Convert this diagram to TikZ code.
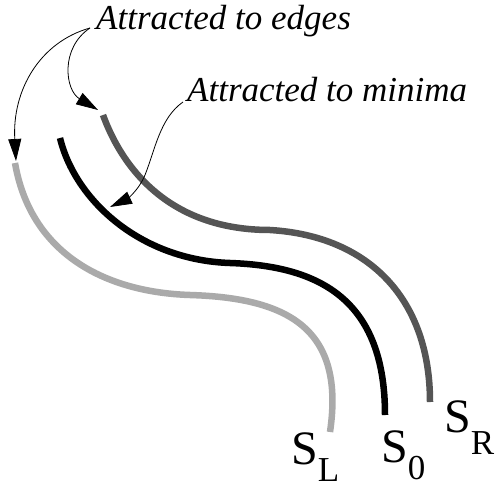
\documentclass[tikz,border=0pt]{standalone}
\usepackage{fontspec}
\setmainfont{Liberation Serif}
\usetikzlibrary{arrows.meta}
\definecolor{lightcurve}{RGB}{170,170,170}
\definecolor{darkcurve}{RGB}{85,85,85}
\begin{document}
\begin{tikzpicture}[x=1pt,y=-1pt,
  curve/.style={line width=6.5pt},
  arr/.style={-{Triangle[length=22pt,width=13pt]}, line width=0.8pt},
  lab/.style={font=\fontsize{35}{40}\selectfont\itshape, inner sep=0pt, anchor=base west},
  slab/.style={font=\fontsize{48}{50}\selectfont, inner sep=0pt, anchor=base west}]
\useasboundingbox (0,0) rectangle (497,489);
% curves
\draw[curve, darkcurve] (103,115) .. controls (125,175) and (175,230) .. (270,230)
  .. controls (370,236) and (430,300) .. (430,402);
\draw[curve, black] (60,138) .. controls (75,200) and (140,260) .. (230,263)
  .. controls (320,266) and (385,300) .. (385,415);
\draw[curve, lightcurve] (15,163) .. controls (30,250) and (100,292) .. (190,295)
  .. controls (290,298) and (345,330) .. (330,432);
% labels
\node[lab] (edges) at (96,30) {Attracted to edges};
\node[lab] (minima) at (187,102) {Attracted to minima};
\coordinate (e0) at ([xshift=-6pt,yshift=2pt]edges.base west);
\coordinate (m0) at ([xshift=-4pt]minima.base west);
\coordinate (tL) at (16,161);
\coordinate (tR) at (98,110);
\coordinate (t0) at (110,207);
\draw[arr] (e0) .. controls (40,42) and (12,90) .. (tL);
\draw[arr] (e0) .. controls (60,48) and (65,90) .. (tR);
\draw[arr] (m0) .. controls (160,118) and (155,150) .. (145,175)
  .. controls (138,192) and (125,200) .. (t0);
\node[slab] (SL) at (291,464) {S\raisebox{-17pt}{\fontsize{35}{35}\selectfont L}};
\node[slab] (S0) at (381,462) {S\raisebox{-17pt}{\fontsize{35}{35}\selectfont 0}};
\node[slab] (SR) at (444,432) {S\raisebox{-22pt}{\fontsize{35}{35}\selectfont R}};
\end{tikzpicture}
\end{document}
